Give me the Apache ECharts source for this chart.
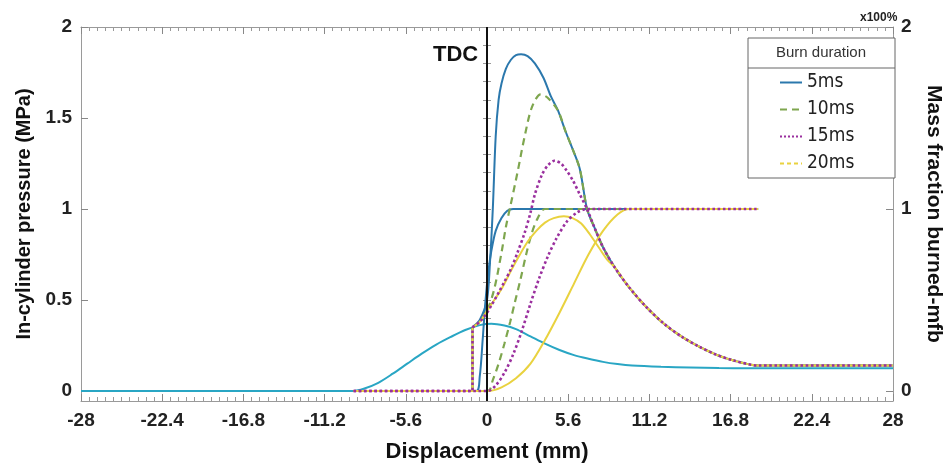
<!DOCTYPE html>
<html><head><meta charset="utf-8">
<script src="https://cdn.jsdelivr.net/npm/echarts@6/dist/echarts.min.js"></script>
<style>html,body{margin:0;padding:0;background:#fff}#c{width:952px;height:468px}</style>
</head><body><div id="c"></div>
<script>
// ---- Data ----
const burnNames = ['5ms', '10ms', '15ms', '20ms'];
const xMin = -28, xMax = 28, xStep = 5.6;
const yMin = -0.055, yMax = 2;
const yLeftTicks = [0, 0.5, 1, 1.5, 2];
const yRightTicks = [0, 1, 2];

// motored (no combustion) pressure, MPa
const motX = [-28, -9.2, -8.5, -7.5, -6.5, -5.5, -4.5, -3.5, -2.5, -1.5, -0.5, 0.3, 1.2, 2, 3, 4, 5, 6, 7, 8, 9, 10, 12, 14, 16, 18, 28];
const motP = [0, 0, 0.012, 0.045, 0.095, 0.15, 0.205, 0.255, 0.297, 0.335, 0.362, 0.37, 0.36, 0.34, 0.3, 0.26, 0.225, 0.197, 0.177, 0.16, 0.148, 0.14, 0.133, 0.129, 0.126, 0.125, 0.125];

// pre-ignition segment of the fired pressure traces
const preX = [-9.2, -1, -1];
const preP = [0, 0, 0.35];

// fired pressure, MPa
const p5X  = [-1, -0.5, 0, 0.2, 0.4, 0.6, 0.8, 1.0, 1.3, 1.65, 2.0, 2.35, 2.8, 3.3, 3.9, 4.4, 4.9, 5.4, 5.9, 6.4, 6.9, 7.4, 8, 8.8, 9.8, 11, 12.2, 13.4, 14.6, 15.8, 17, 18.7, 28];
const p5Y  = [0.35, 0.39, 0.5, 0.7, 1.0, 1.4, 1.6, 1.69, 1.77, 1.82, 1.845, 1.85, 1.84, 1.8, 1.72, 1.62, 1.54, 1.43, 1.33, 1.22, 1.0, 0.9, 0.79, 0.68, 0.57, 0.46, 0.37, 0.3, 0.245, 0.2, 0.168, 0.14, 0.14];
const p10X = [-1, -0.5, 0, 0.5, 1.0, 1.3, 1.65, 2.1, 2.6, 3.1, 3.7, 4.2, 4.9, 5.4, 5.9, 6.4, 6.9, 7.4, 8, 8.8, 9.8, 11, 12.2, 13.4, 14.6, 15.8, 17, 18.7, 28];
const p10Y = [0.35, 0.38, 0.44, 0.56, 0.76, 0.9, 1.03, 1.2, 1.4, 1.56, 1.63, 1.61, 1.54, 1.43, 1.33, 1.22, 1.0, 0.9, 0.79, 0.68, 0.57, 0.46, 0.37, 0.3, 0.245, 0.2, 0.168, 0.14, 0.14];
const p15X = [-1, -0.5, 0, 0.3, 0.8, 1.2, 1.65, 2.1, 2.6, 3.0, 3.3, 3.8, 4.2, 4.65, 5.1, 5.5, 5.9, 6.4, 6.9, 7.4, 8, 8.8, 9.8, 11, 12.2, 13.4, 14.6, 15.8, 17, 18.7, 28];
const p15Y = [0.35, 0.38, 0.43, 0.47, 0.54, 0.6, 0.67, 0.76, 0.87, 0.98, 1.08, 1.19, 1.24, 1.265, 1.25, 1.21, 1.16, 1.08, 1.0, 0.9, 0.79, 0.68, 0.57, 0.46, 0.37, 0.3, 0.245, 0.2, 0.168, 0.14, 0.14];
const p20X = [-1, -0.5, 0, 0.5, 1.0, 1.65, 2.2, 2.8, 3.4, 4.0, 4.6, 5.3, 5.9, 6.5, 7.1, 7.7, 8.3, 8.8, 9.8, 11, 12.2, 13.4, 14.6, 15.8, 17, 18.7, 28];
const p20Y = [0.35, 0.38, 0.44, 0.5, 0.56, 0.66, 0.74, 0.82, 0.88, 0.925, 0.95, 0.96, 0.95, 0.92, 0.86, 0.79, 0.72, 0.68, 0.57, 0.46, 0.37, 0.3, 0.245, 0.2, 0.168, 0.14, 0.14];

// mass fraction burned (x100%)
const m5X  = [-9.2, -0.75, -0.5, -0.3, -0.1, 0.1, 0.3, 0.6, 1.0, 1.4, 1.8, 18.7];
const m5Y  = [0, 0, 0.08, 0.28, 0.5, 0.66, 0.77, 0.88, 0.95, 0.99, 1, 1];
const m10X = [-9.2, 0.05, 0.4, 0.8, 1.2, 1.6, 1.9, 2.3, 2.7, 3.1, 3.5, 4.0, 18.7];
const m10Y = [0, 0, 0.06, 0.15, 0.26, 0.38, 0.48, 0.61, 0.75, 0.87, 0.95, 1, 1];
const m15X = [-9.2, 0.05, 0.6, 1.2, 1.8, 2.4, 3.0, 3.6, 4.2, 4.8, 5.5, 6.2, 6.9, 18.7];
const m15Y = [0, 0, 0.03, 0.1, 0.2, 0.33, 0.48, 0.62, 0.74, 0.84, 0.93, 0.98, 1, 1];
const m20X = [-9.2, 0.05, 1, 2, 3, 4, 5, 6, 7, 8, 9, 9.8, 18.7];
const m20Y = [0, 0, 0.02, 0.07, 0.15, 0.28, 0.43, 0.59, 0.75, 0.88, 0.97, 1, 1];

// ---- Styles ----
const C = { '5ms': '#2b78ad', '10ms': '#7ea64e', '15ms': '#9a2f9e', '20ms': '#e9d23f', mot: '#29a6c4' };
const dash = { '5ms': 'solid', '10ms': [7, 5], '15ms': 'dotted', '20ms': 'solid' };
const W = { '5ms': 2, '10ms': 2.2, '15ms': 2.6, '20ms': 2 };
const FONT = 'Liberation Sans, Arial, sans-serif';

function pts(xs, ys) { return xs.map((x, i) => [x, ys[i]]); }
function fmt(v) { return String(Math.round(v * 10) / 10); }

const sets = {
  '5ms':  { p: pts(p5X, p5Y),  m: pts(m5X, m5Y) },
  '10ms': { p: pts(p10X, p10Y), m: pts(m10X, m10Y) },
  '15ms': { p: pts(p15X, p15Y), m: pts(m15X, m15Y) },
  '20ms': { p: pts(p20X, p20Y), m: pts(m20X, m20Y) }
};

function lineSeries(name, data, yIdx, smooth) {
  return {
    type: 'line', name: name, data: data, yAxisIndex: yIdx, xAxisIndex: 0,
    showSymbol: false, symbol: 'none', smooth: smooth ? 0.3 : false, silent: true,
    color: C[name],
    lineStyle: { color: C[name], width: W[name], type: dash[name] }
  };
}

const series = [];
series.push({
  type: 'line', name: 'Motored', data: pts(motX, motP), yAxisIndex: 0, xAxisIndex: 0,
  showSymbol: false, symbol: 'none', smooth: 0.3, silent: true, color: C.mot,
  lineStyle: { color: C.mot, width: 2 },
  markLine: {
    silent: true, symbol: ['none', 'none'], label: { show: false },
    lineStyle: { color: '#111', width: 2, type: 'solid' },
    data: [{ xAxis: 0 }]
  }
});
// draw order: blue, green, yellow, purple (purple on top)
['5ms', '10ms', '20ms', '15ms'].forEach(n => {
  series.push(lineSeries(n, pts(preX, preP), 0, false));
  series.push(lineSeries(n, sets[n].m, 1, true));
  series.push(lineSeries(n, sets[n].p, 0, true));
});

const minorY = [];
for (let v = 0; v <= 20; v++) minorY.push(v / 10);

const tickLbl = { fontSize: 19, fontWeight: 'bold', color: '#222', fontFamily: FONT };
const nameStyle = { fontSize: 21, fontWeight: 'bold', color: '#111', fontFamily: FONT };
const axLine = { show: true, onZero: false, lineStyle: { color: '#9a9a9a', width: 1 } };

const option = {
  animation: false,
  backgroundColor: '#fff',
  grid: { left: 81, right: 55, top: 27, bottom: 66, containLabel: false },
  title: [
    { text: 'TDC', left: 428, top: 39, textStyle: { fontSize: 22, fontWeight: 'bold', color: '#111', fontFamily: FONT } },
    { text: 'x100%', left: 855, top: 7, textStyle: { fontSize: 12, fontWeight: 'bold', color: '#222', fontFamily: FONT } }
  ],
  legend: {
    data: [{ name: '5ms' }, { name: '10ms' }, { name: '15ms' }, { name: '20ms', lineStyle: { type: [4, 3] } }],
    orient: 'vertical', left: 779, top: 73, padding: 0,
    itemWidth: 22, itemHeight: 10, itemGap: 8,
    itemStyle: { opacity: 0, borderWidth: 0 },
    textStyle: { fontSize: 19, lineHeight: 19, color: '#222', fontFamily: 'Liberation Sans Narrow, Arial Narrow, DejaVu Sans Condensed, ' + FONT },
    selectedMode: false
  },
  graphic: [
    { type: 'rect', shape: { x: 748, y: 38, width: 147, height: 140 }, style: { fill: '#fff', stroke: '#666', lineWidth: 1 }, z: 1 },
    { type: 'line', shape: { x1: 748, y1: 68, x2: 895, y2: 68 }, style: { stroke: '#666', lineWidth: 1 }, z: 2 },
    { type: 'text', x: 821, y: 53, style: { text: 'Burn duration', fill: '#333', font: '15px ' + FONT, textAlign: 'center', textVerticalAlign: 'middle' }, z: 2 }
  ],
  xAxis: [
    {
      type: 'value', position: 'bottom', min: xMin, max: xMax, interval: xStep,
      axisLine: axLine,
      axisTick: { show: true, inside: true, length: 7, lineStyle: { color: '#888' } },
      minorTick: { show: true, splitNumber: 10, length: 4, lineStyle: { color: '#999' } },
      axisLabel: Object.assign({ formatter: fmt, margin: 10, showMinLabel: true, showMaxLabel: true }, tickLbl),
      splitLine: { show: false }, minorSplitLine: { show: false },
      name: 'Displacement (mm)', nameLocation: 'middle', nameGap: 40,
      nameTextStyle: Object.assign({}, nameStyle, { fontSize: 22 })
    },
    {
      type: 'value', position: 'top', min: xMin, max: xMax, interval: xStep,
      axisLine: axLine,
      axisTick: { show: true, inside: true, length: 7, lineStyle: { color: '#888' } },
      minorTick: { show: true, splitNumber: 10, length: 4, lineStyle: { color: '#999' } },
      axisLabel: { show: false }, splitLine: { show: false }
    }
  ],
  yAxis: [
    {
      type: 'value', position: 'left', min: yMin, max: yMax,
      axisLine: axLine,
      axisTick: { show: true, inside: true, length: 7, customValues: yLeftTicks, lineStyle: { color: '#888' } },
      axisLabel: Object.assign({ customValues: yLeftTicks, margin: 9, formatter: fmt }, tickLbl),
      splitLine: { show: false },
      name: 'In-cylinder pressure (MPa)', nameLocation: 'middle', nameGap: 41,
      nameTextStyle: Object.assign({}, nameStyle, { fontSize: 20 })
    },
    {
      type: 'value', position: 'right', min: yMin, max: yMax,
      axisLine: axLine,
      axisTick: { show: true, inside: true, length: 7, customValues: yRightTicks, lineStyle: { color: '#888' } },
      axisLabel: Object.assign({ customValues: yRightTicks, margin: 8, formatter: fmt }, tickLbl),
      splitLine: { show: false },
      name: 'Mass fraction burned-mfb', nameLocation: 'middle', nameGap: 30, nameRotate: -90, nameTextStyle: nameStyle
    },
    {
      type: 'value', position: 'left', min: yMin, max: yMax,
      axisLine: { show: false },
      axisTick: { show: true, inside: true, length: 4, customValues: minorY, lineStyle: { color: '#999' } },
      axisLabel: { show: false }, splitLine: { show: false }
    },
    {
      type: 'value', position: 'right', min: yMin, max: yMax,
      axisLine: { show: false },
      axisTick: { show: true, inside: true, length: 4, customValues: minorY, lineStyle: { color: '#999' } },
      axisLabel: { show: false }, splitLine: { show: false }
    }
  ],
  series: series
};

const chart = echarts.init(document.getElementById('c'), null, { renderer: 'canvas' });
chart.setOption(option);
</script>
</body></html>
